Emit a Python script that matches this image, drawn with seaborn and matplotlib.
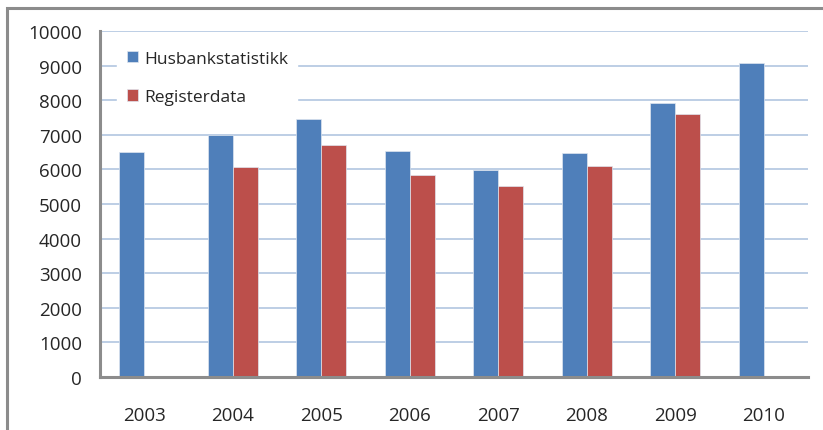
import matplotlib
matplotlib.use('Agg')
import matplotlib.pyplot as plt
import seaborn as sns
import pandas as pd
import numpy as np
from matplotlib.patches import Rectangle

years = ['2003', '2004', '2005', '2006', '2007', '2008', '2009', '2010']
husbank = [6500, 6980, 7470, 6520, 5980, 6470, 7920, 9080]
register = [np.nan, 6060, 6700, 5840, 5520, 6110, 7610, np.nan]

df = pd.DataFrame({
    'År': years * 2,
    'Antall': husbank + register,
    'Kilde': ['Husbankstatistikk'] * len(years) + ['Registerdata'] * len(years),
})

sns.set_style('white')
plt.rcParams['font.family'] = ['Open Sans', 'DejaVu Sans']

fig = plt.figure(figsize=(8.23, 4.31), dpi=100)
ax = fig.add_axes([0.1215, 0.123, 0.8603, 0.8028])

# outer frame (cut off at right/bottom like the reference)
fig.patches.append(Rectangle((7 / 823, -0.1), 1.2, 1 - 9 / 431 + 0.1,
                             transform=fig.transFigure, fill=False,
                             edgecolor='#8c8c8c', linewidth=2.2))

sns.barplot(data=df, x='År', y='Antall', hue='Kilde',
            palette=['#4F7FBA', '#BC4F4B'], width=0.565, saturation=1,
            edgecolor='#dfe6f0', linewidth=0.5, ax=ax)

ax.set_ylim(0, 10000)
ax.set_xlim(-0.5, 7.5)
ax.set_yticks(range(0, 10001, 1000))
ax.yaxis.grid(True, color='#B7CAE3', linewidth=1.3)
ax.set_axisbelow(True)

# ticks at group boundaries, labels at centres
ax.set_xticks(np.arange(-0.5, 8, 1))
ax.set_xticklabels([])
ax.set_xticks(range(len(years)), minor=True)
ax.set_xticklabels(years, minor=True)
ax.tick_params(axis='x', which='major', direction='out', length=6, width=2, color='#8c8c8c')
ax.tick_params(axis='x', which='minor', length=0, pad=21, labelsize=13.5)
ax.tick_params(axis='y', direction='out', length=6, width=2, color='#8c8c8c', pad=7, labelsize=13.5)

for s in ['top', 'right']:
    ax.spines[s].set_visible(False)
for s in ['left', 'bottom']:
    ax.spines[s].set_color('#8c8c8c')
    ax.spines[s].set_linewidth(2.2)

ax.set_xlabel('')
ax.set_ylabel('')

leg = ax.legend(loc='upper left', bbox_to_anchor=(0.024, 0.971), frameon=True,
                fontsize=12.5, handlelength=0.65, handleheight=0.65,
                handletextpad=0.35, labelspacing=1.3, borderpad=0.55,
                borderaxespad=0)
leg.get_frame().set_facecolor('white')
leg.get_frame().set_edgecolor('white')
leg.get_frame().set_alpha(1)
leg.get_frame().set_boxstyle('square', pad=0)

plt.savefig('out.png', dpi=100)
plt.close()
